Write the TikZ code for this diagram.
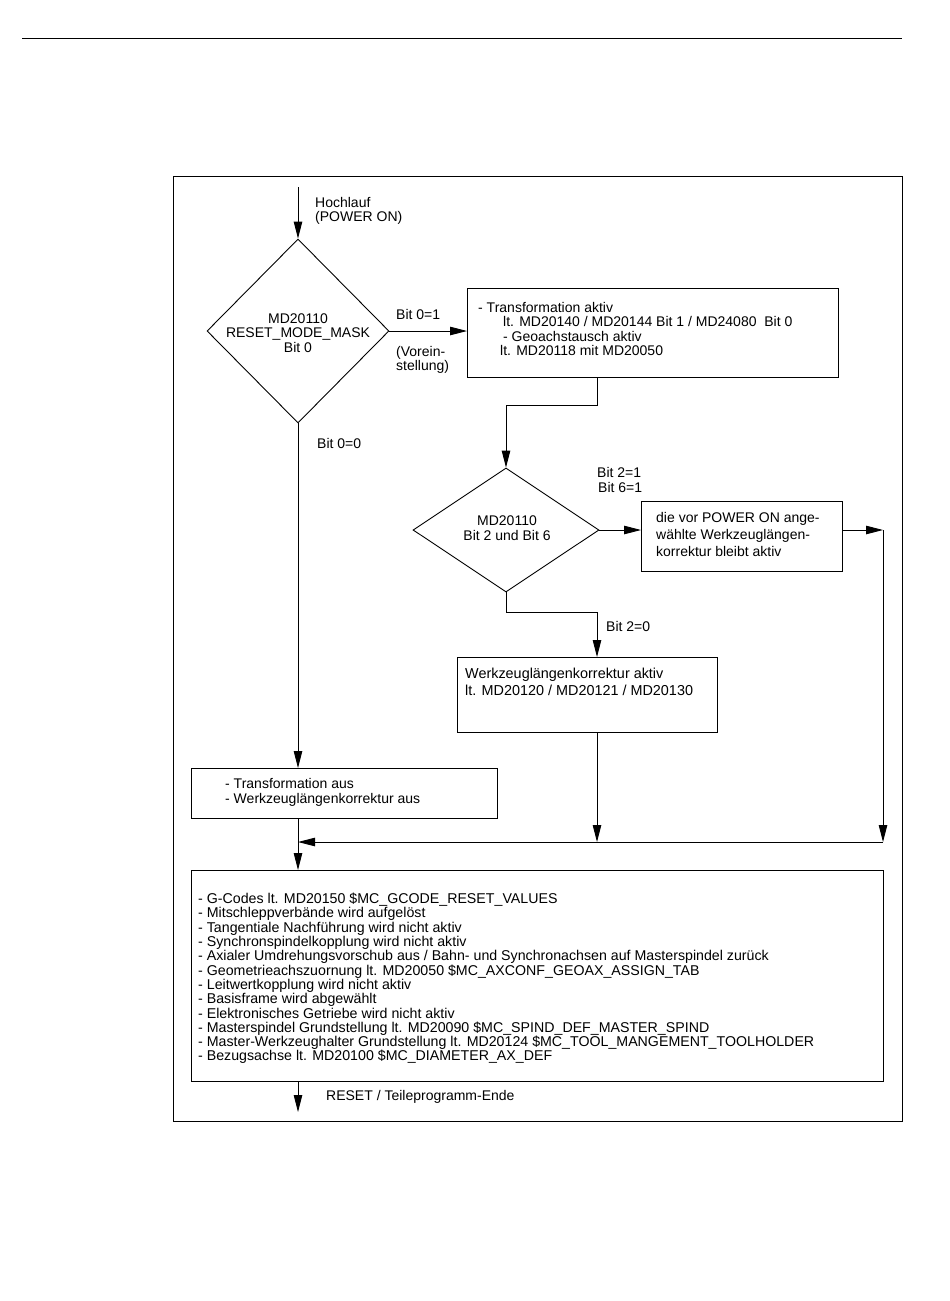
\documentclass[tikz,border=0pt]{standalone}
\usepackage{fontspec}
\setmainfont{Liberation Sans}
\usetikzlibrary{shapes.geometric,arrows.meta,positioning}

\begin{document}
\begin{tikzpicture}[
  x=1pt,y=-1pt,
  every node/.style={font={\fontsize{14}{14.6}\selectfont}},
  box/.style={draw,line width=1pt,inner sep=0pt,anchor=north west},
  test/.style={draw,diamond,line width=0.9pt,inner sep=0pt},
  txt/.style={inner sep=0pt,align=left,anchor=west},
  list/.style={font={\fontsize{14.2}{14.3}\selectfont}},
  flow/.style={line width=0.9pt,-{Triangle[length=17pt,width=8.5pt]}},
  ]
  \useasboundingbox (0,0) rectangle (950,1301);
  % Page rule and frame
  \draw[line width=0.8pt] (22,38) -- (902,38);
  \draw[line width=0.8pt] (173,176) rectangle (902,1121);
  % Decisions
  \node[test,minimum width=182pt,minimum height=184pt] (d1) at (298,331) {};
  \node[align=center,inner sep=0pt] (d1t) at (298,333) {MD20110\\RESET\_MODE\_MASK\\Bit 0};
  \node[test,minimum width=186pt,minimum height=124pt] (d2) at (506,530) {};
  \node[align=center,inner sep=0pt] (d2t) at (507,528) {MD20110\\Bit 2 und Bit 6};
  % Boxes
  \node[box,minimum width=371pt,minimum height=89pt] (b1) at (467,288) {};
  \node[txt] (b1t) at (478,329) {- Transformation aktiv\\
    \hspace*{25pt}lt. MD20140 / MD20144 Bit 1 / MD24080 \ Bit 0\\
    \hspace*{25pt}- Geoachstausch aktiv\\
    \hspace*{22pt}lt. MD20118 mit MD20050};
  \node[box,minimum width=201pt,minimum height=70pt] (b2) at (641,501) {};
  \node[txt] (b2t) at (656,534) {die vor POWER ON ange-\\[2.4pt]
    wählte Werkzeuglängen-\\[2.4pt]korrektur bleibt aktiv};
  \node[box,minimum width=260pt,minimum height=75pt] (b3) at (457,657) {};
  \node[txt,font={\fontsize{14.4}{14.6}\selectfont}] (b3t) at (465,681.5)
    {Werkzeuglängenkorrektur aktiv\\[2.4pt]lt. MD20120 / MD20121 / MD20130};
  \node[box,minimum width=306pt,minimum height=50pt] (b4) at (191,768) {};
  \node[txt] (b4t) at (225,792.5) {- Transformation aus\\
    - Werkzeuglängenkorrektur aus};
  \node[box,minimum width=692pt,minimum height=211pt] (b5) at (191,870) {};
  \node[txt,list] (b5t) at (198,978.5) {%
    - G-Codes lt. MD20150 \$MC\_GCODE\_RESET\_VALUES\\
    - Mitschleppverbände wird aufgelöst\\
    - Tangentiale Nachführung wird nicht aktiv\\
    - Synchronspindelkopplung wird nicht aktiv\\
    - Axialer Umdrehungsvorschub aus / Bahn- und Synchronachsen auf Masterspindel zurück\\
    - Geometrieachszuornung lt. MD20050 \$MC\_AXCONF\_GEOAX\_ASSIGN\_TAB\\
    - Leitwertkopplung wird nicht aktiv\\
    - Basisframe wird abgewählt\\
    - Elektronisches Getriebe wird nicht aktiv\\
    - Masterspindel Grundstellung lt. MD20090 \$MC\_SPIND\_DEF\_MASTER\_SPIND\\
    - Master-Werkzeughalter Grundstellung lt. MD20124 \$MC\_TOOL\_MANGEMENT\_TOOLHOLDER\\
    - Bezugsachse lt. MD20100 \$MC\_DIAMETER\_AX\_DEF};
  % Junctions
  \coordinate (start) at (298,187);
  \coordinate (j1) at (597,405);
  \coordinate (j2) at (597,612);
  \coordinate (r) at (883,530);
  \coordinate (m) at (298,842);
  \coordinate (end) at (298,1112);
  % Connectors
  \draw[flow] (start) -- (d1.north);
  \draw[flow] (d1.east) -- (d1.east -| b1.west);
  \draw[flow] (j1 |- b1.south) -- (j1) -| (d2.north);
  \draw[flow] (d2.east) -- (d2.east -| b2.west);
  \draw[flow] (d2.east -| b2.east) -- (r);
  \draw[flow] (r) -- (r |- m);
  \draw[flow] (d2.south) |- (j2) -- (j2 |- b3.north);
  \draw[flow] (j2 |- b3.south) -- (j2 |- m);
  \draw[flow] (r |- m) -- (m);
  \draw[flow] (d1.south) -- (d1.south |- b4.north);
  \draw[flow] (d1.south |- b4.south) -- (d1.south |- b5.north);
  \draw[flow] (end |- b5.south) -- (end);
  % Labels
  \node[txt] (lpower) at (315,211) {Hochlauf\\(POWER ON)};
  \node[txt] (lb01) at (396,314) {Bit 0=1};
  \node[txt] (lvor) at (396,360) {(Vorein-\\stellung)};
  \node[txt] (lb00) at (317,443) {Bit 0=0};
  \node[txt] (lb21) at (597,480) {Bit 2=1\\\hspace*{1pt}Bit 6=1};
  \node[txt] (lb20) at (606,626) {Bit 2=0};
  \node[txt] (lreset) at (326,1097) {RESET / Teileprogramm-Ende};
\end{tikzpicture}
\end{document}
